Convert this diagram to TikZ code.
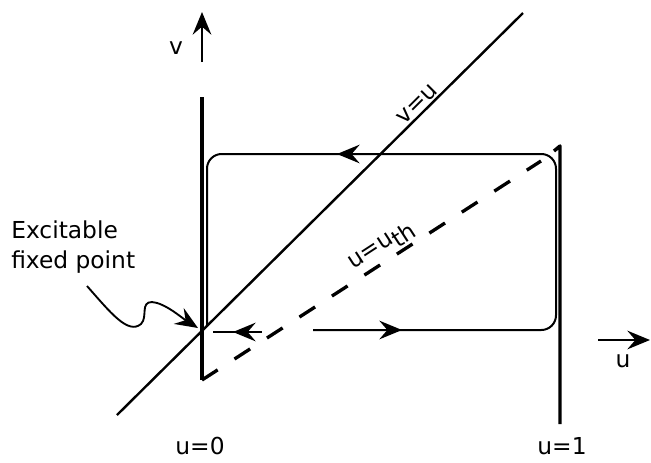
\documentclass[tikz,border=0pt]{standalone}
\usepackage{fontspec}
\setmainfont{DejaVu Sans}
\usetikzlibrary{arrows.meta}
\begin{document}
\begin{tikzpicture}[x=0.75pt,y=-0.75pt]
\useasboundingbox (0,0) rectangle (651,462);
\tikzset{
 nullc/.style={line width=2.6pt},
 diag/.style={line width=1.8pt},
 traj/.style={line width=1.5pt},
 tip/.style={-{Stealth[length=17pt,width=14pt,inset=6pt]}},
 lab/.style={font=\fontsize{17.5}{20}\selectfont, inner sep=0pt},
}
% v axis
\coordinate (vb) at (202,62); \coordinate (vt) at (202,12);
\draw[line width=1.4pt, tip] (vb) -- (vt);
\node[lab] (vlab) at (176,48) {v};
% u axis
\coordinate (ul) at (598,340); \coordinate (ur) at (650,340);
\draw[line width=1.4pt, tip] (ul) -- (ur);
\node[lab] (ulab) at (623,361) {u};
% left nullcline u=0
\coordinate (L0t) at (202,97); \coordinate (L0b) at (202,380);
\draw[nullc] (L0t) -- (L0b);
% right nullcline u=1
\coordinate (L1h) at (554,151); \coordinate (L1t) at (560,146); \coordinate (L1b) at (560,424);
\draw[nullc, line join=round] (L1h) -- (L1t) -- (L1b);
% diagonal v=u
\coordinate (d0) at (117,415); \coordinate (d1) at (523,13);
\draw[diag] (d0) -- (d1);
% threshold dashed
\coordinate (th1) at (541,161);
\draw[line width=2.5pt, dash pattern=on 14pt off 15pt] (L0b) -- (th1);
% trajectory
\coordinate (b0) at (313,330); \coordinate (br) at (556,330);
\coordinate (tr) at (556,154); \coordinate (tl) at (207,154); \coordinate (lb) at (207,326);
\draw[traj, rounded corners=11pt] (b0) -- (br) -- (tr) -- (tl) -- (lb);
\coordinate (s0) at (213,332); \coordinate (s1) at (262,332);
\draw[traj] (s0) -- (s1);
\coordinate (sa) at (258,332); \coordinate (sb) at (233,332);
\draw[traj, tip] (sa) -- (sb);
\coordinate (ta) at (364,154); \coordinate (tb) at (337,154);
\draw[traj, tip] (ta) -- (tb);
\coordinate (ba) at (374,330); \coordinate (bb) at (402,330);
\draw[traj, tip] (ba) -- (bb);
% labels
\coordinate (vuA) at (424,111);
\node[lab, rotate=45, anchor=south, inner sep=2pt] (vu) at (vuA) {v=u};
\coordinate (uthA) at (390,258.5);
\node[lab, rotate=33, anchor=south, inner sep=3pt] (uth) at (uthA) {u=u\raisebox{-5pt}{th}};
\node[lab] (u0) at (200,446) {u=0};
\node[lab] (u1) at (562,446) {u=1};
\node[font=\fontsize{17.5}{22.5}\selectfont, inner sep=0pt, align=left, anchor=north west] (exc) at (11,220) {Excitable\\fixed point};
% squiggly pointer
\coordinate (sq0) at (87,286); \coordinate (fp) at (198,328);
\draw[line width=1.4pt, tip] (sq0) .. controls (110,312) and (128,335) .. (141,324) .. controls (148,317) and (140,302) .. (152,302) .. controls (165,303) and (182,318) .. (fp);
\end{tikzpicture}
\end{document}
